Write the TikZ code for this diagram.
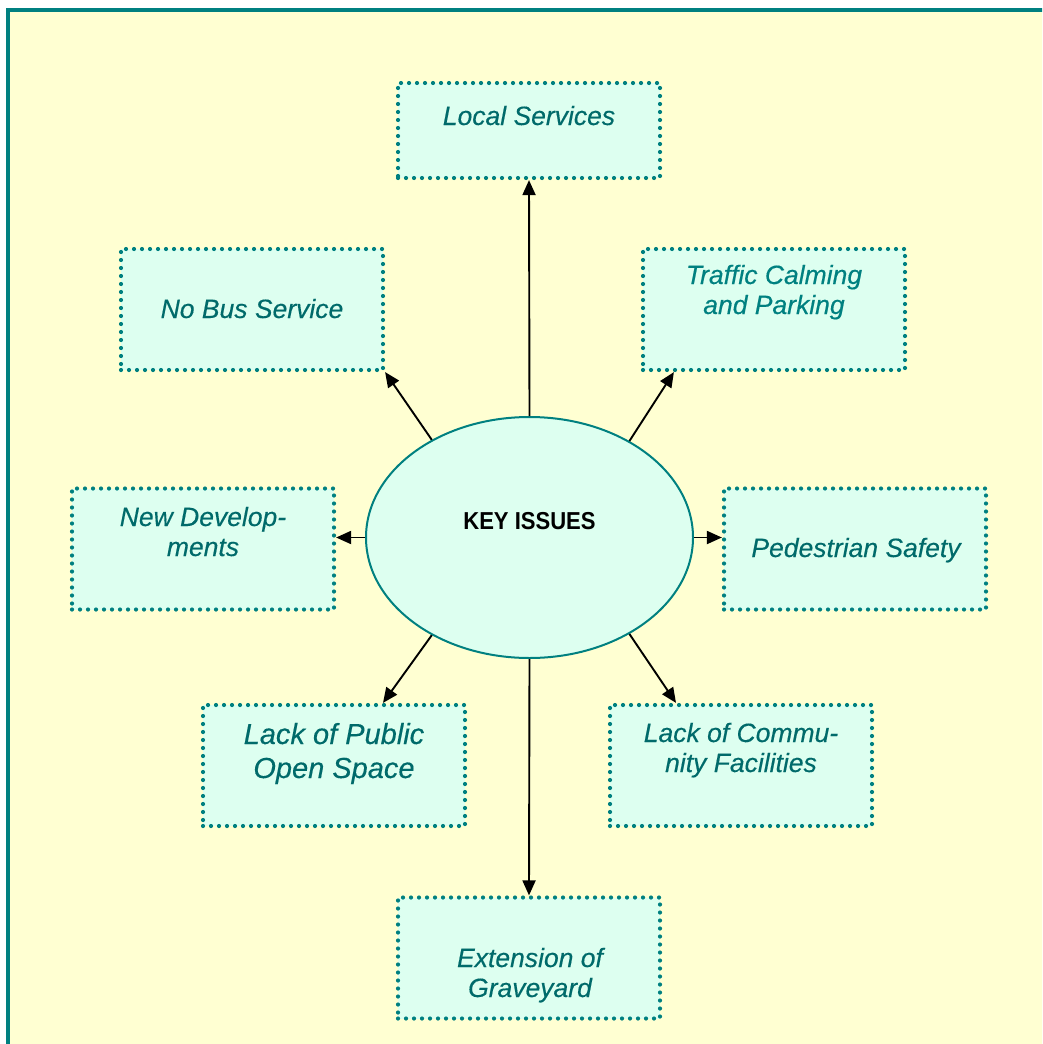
\documentclass[tikz,border=0pt]{standalone}
\usepackage{fontspec}
\setmainfont{Liberation Sans}
\newfontfamily\boxfont[FakeBold=0.3]{Liberation Sans}
\usetikzlibrary{arrows.meta,calc,shapes.geometric}
\definecolor{bgyellow}{HTML}{FFFFD2}
\definecolor{boxfill}{HTML}{DDFFF0}
\definecolor{tealline}{HTML}{008080}
\definecolor{tealtext}{HTML}{006A6A}
\definecolor{tealtextb}{HTML}{008080}
\tikzset{
  issuebox/.style={draw=tealline, fill=boxfill, line width=4.2pt, line cap=round,
    dash pattern=on 0pt off 8pt, minimum width=262pt, minimum height=121pt,
    inner sep=0pt},
  issuetext/.style={font=\boxfont\itshape\fontsize{26.5}{30}\selectfont, text=tealtext,
    align=center, anchor=base, inner sep=0pt},
  bigtext/.style={font=\boxfont\itshape\fontsize{29}{34}\selectfont, text=tealtext,
    align=center, anchor=base, inner sep=0pt},
  conn/.style={line width=1.9pt, -{Triangle[length=15pt,width=13pt]}},
}
\begin{document}
\begin{tikzpicture}[x=1pt,y=-1pt]
\useasboundingbox (0,0) rectangle (1042,1044);
\clip (0,0) rectangle (1042,1044);
\fill[white] (0,0) rectangle (1042,1044);
\fill[bgyellow] (8,9.5) rectangle (1080,1080);
\draw[tealline, line width=4pt] (8,1080) -- (8,9.5) -- (1080,9.5);

% boxes
\node[issuebox, minimum height=95pt] (local) at (529,130.5) {};
\node[issuebox] (nobus) at (252,309.5) {};
\node[issuebox] (traffic) at (774,309.5) {};
\node[issuebox] (newdev) at (203,549) {};
\node[issuebox] (ped) at (855,549) {};
\node[issuebox] (public) at (334,765.5) {};
\node[issuebox] (community) at (741,765.5) {};
\node[issuebox] (grave) at (529,958) {};

% texts (base = baseline of last line)
\node[issuetext] (tlocal) at (529,125) {Local Services};
\node[issuetext] (tnobus) at (252,318) {No Bus Service};
\node[issuetext, text=tealtextb] (ttraffic) at (774,314) {Traffic Calming\\and Parking};
\node[issuetext] (tnewdev) at (203,556) {New Develop-\\ments};
\node[issuetext] (tped) at (856,557) {Pedestrian Safety};
\node[bigtext] (tpublic) at (334,778) {Lack of Public\\Open Space};
\node[issuetext] (tcomm) at (741,772) {Lack of Commu-\\nity Facilities};
\node[issuetext] (tgrave) at (530,997) {Extension of\\Graveyard};

% centre
\node[ellipse, draw=tealline, fill=boxfill, line width=2pt,
  minimum width=327pt, minimum height=241pt, inner sep=0pt] (ell) at (529.5,537.5) {};
\node[font=\bfseries\fontsize{24.5}{28}\selectfont, anchor=base, inner sep=0pt] (tkey) at (529.5,529)
  {\scalebox{0.9}[1]{KEY ISSUES}};

% connectors
\draw[conn] (ell.north) -- (local.south);
\draw[conn] (ell.south) -- (grave.north);
\draw[conn] (ell.west) -- (ell.west -| newdev.east);
\draw[conn] (ell.east) -- (ell.east -| ped.west);
\draw[conn] (ell.135.6) -- (nobus.south east);
\draw[conn] (ell.44.4) -- ($(traffic.south west)+(33,0)$);
\draw[conn] (ell.-135.6) -- ($(public.north)+(49,0)$);
\draw[conn] (ell.-44.4) -- ($(community.north)+(-65,0)$);
\end{tikzpicture}
\end{document}
